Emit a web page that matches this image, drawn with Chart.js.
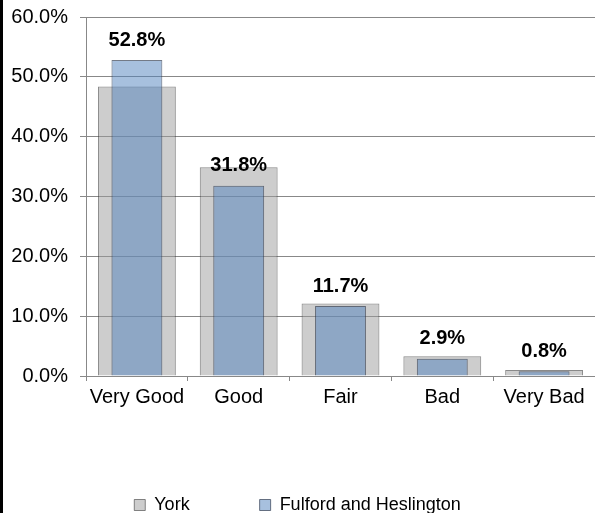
<!DOCTYPE html>
<html>
<head>
<meta charset="utf-8">
<script src="https://cdn.jsdelivr.net/npm/chart.js@4/dist/chart.umd.min.js"></script>
<style>
  html, body { margin: 0; padding: 0; background: #fff; }
  #wrap { position: relative; width: 595px; height: 513px; }
  #edge { position: absolute; left: 0; top: 0; width: 3px; height: 513px; background: #000; }
</style>
</head>
<body>
<div id="wrap">
  <canvas id="chart" width="595" height="513"></canvas>
  <div id="edge"></div>
</div>
<script>
const categories = ['Very Good', 'Good', 'Fair', 'Bad', 'Very Bad'];
const york = [48.4, 34.9, 12.1, 3.3, 1.0];
const fulford = [52.8, 31.8, 11.7, 2.9, 0.8];
const yTicks = [0, 10, 20, 30, 40, 50, 60];

Chart.defaults.font.family = '"Liberation Sans", Arial, sans-serif';
Chart.defaults.font.size = 20;
Chart.defaults.color = '#000';

const valueLabels = {
  id: 'valueLabels',
  afterDatasetsDraw(chart) {
    const ctx = chart.ctx;
    const meta = chart.getDatasetMeta(1);
    ctx.save();
    ctx.font = 'bold 20px "Liberation Sans", Arial, sans-serif';
    ctx.fillStyle = '#000';
    ctx.textAlign = 'center';
    ctx.textBaseline = 'middle';
    meta.data.forEach((bar, i) => {
      ctx.fillText(fulford[i].toFixed(1) + '%', bar.x, bar.y - 20);
    });
    ctx.restore();
  }
};

new Chart(document.getElementById('chart'), {
  type: 'bar',
  data: {
    labels: categories,
    datasets: [
      {
        label: 'York',
        data: york,
        backgroundColor: 'rgba(155,155,155,0.5)',
        borderColor: 'rgba(60,60,60,0.6)',
        borderWidth: 1,
        barPercentage: 0.765,
        categoryPercentage: 1,
        grouped: false,
        order: 2
      },
      {
        label: 'Fulford and Heslington',
        data: fulford,
        backgroundColor: 'rgba(79,129,189,0.5)',
        borderColor: 'rgba(40,50,70,0.65)',
        borderWidth: 1,
        barPercentage: 0.5,
        categoryPercentage: 1,
        grouped: false,
        order: 1
      }
    ]
  },
  options: {
    responsive: false,
    animation: false,
    layout: { padding: { top: 12, right: 0, left: 0, bottom: -11 } },
    plugins: {
      tooltip: { enabled: false },
      legend: {
        position: 'bottom',
        labels: {
          boxWidth: 11,
          boxHeight: 11,
          padding: 70,
          font: { size: 18 },
          sort: (a, b) => a.datasetIndex - b.datasetIndex
        }
      }
    },
    scales: {
      x: {
        offset: true,
        grid: { offset: true, drawOnChartArea: false, tickLength: 5, color: '#888' },
        border: { color: '#888' },
        ticks: { padding: 4 },
        afterFit: scale => { scale.height = 50; }
      },
      y: {
        min: 0,
        max: 60,
        afterBuildTicks: scale => { scale.ticks = yTicks.map(v => ({ value: v })); },
        afterFit: scale => { scale.width = 86; },
        grid: { color: '#888', tickLength: 6 },
        border: { color: '#888' },
        ticks: { padding: 12, font: { lineHeight: 0.5 }, callback: v => v.toFixed(1) + '%' }
      }
    }
  },
  plugins: [valueLabels]
});
</script>
</body>
</html>
